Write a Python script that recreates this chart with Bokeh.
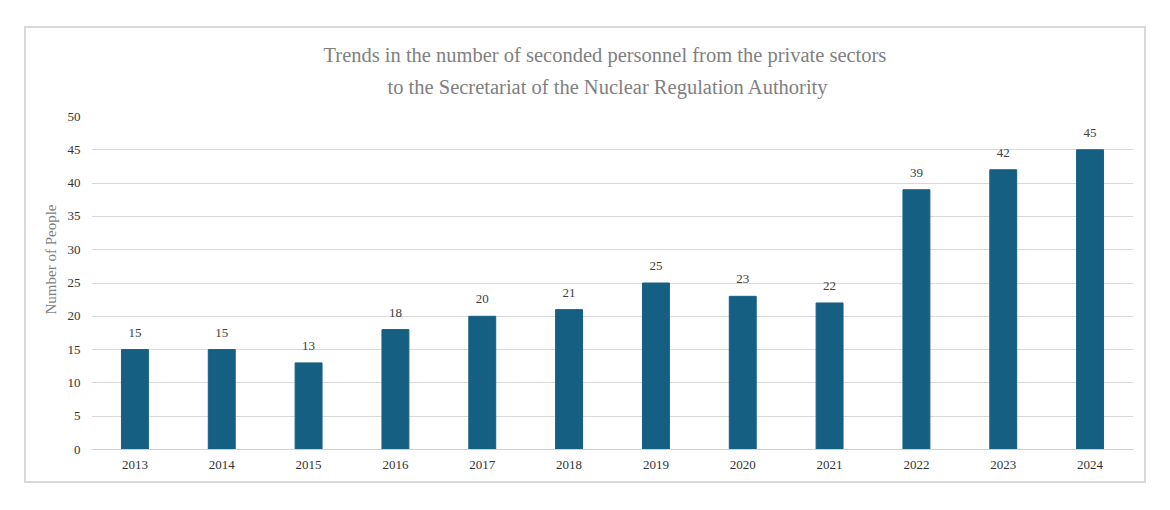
from bokeh.plotting import figure
from bokeh.models import ColumnDataSource, LabelSet, Title, SingleIntervalTicker
from bokeh.embed import file_html
from bokeh.resources import INLINE

years = ["2013", "2014", "2015", "2016", "2017", "2018", "2019", "2020", "2021", "2022", "2023", "2024"]
people = [15, 15, 13, 18, 20, 21, 25, 23, 22, 39, 42, 45]
title_lines = ["Trends in the number of seconded personnel from the private sectors",
               "to the Secretariat of the Nuclear Regulation Authority"]
y_label = "Number of People"

SERIF = "Liberation Serif"

src = ColumnDataSource(dict(x=years, y=people, t=[str(v) for v in people]))

p = figure(x_range=years, y_range=(0, 50), width=1122, height=457,
           output_backend="svg", toolbar_location=None,
           min_border_left=65, min_border_right=15, min_border_top=0, min_border_bottom=36)
p.margin = (26, 0, 0, 24)
p.styles = {"border": "2px solid #d9d9d9", "box-sizing": "border-box"}
p.outline_line_color = None

p.vbar(x="x", top="y", width=0.31, source=src, color="#155F82")
p.add_layout(LabelSet(x="x", y="y", text="t", source=src, y_offset=13,
                      text_align="center", text_baseline="bottom",
                      text_font=SERIF, text_font_size="13px", text_color="#404040"))

spacer_bottom = Title(text=" ", align="left", text_font=SERIF, text_font_size="1px", standoff=15.5)
t2 = Title(text=title_lines[1], align="left", text_font=SERIF, text_font_size="20.5px",
           text_color="#7f7f7f", text_font_style="normal", offset=296, standoff=0)
t1 = Title(text=title_lines[0], align="left", text_font=SERIF, text_font_size="20.5px",
           text_color="#7f7f7f", text_font_style="normal", offset=232, standoff=16)
spacer_top = Title(text=" ", align="left", text_font=SERIF, text_font_size="1px", standoff=2)
p.add_layout(spacer_bottom, "above")
p.add_layout(t2, "above")
p.add_layout(t1, "above")
p.add_layout(spacer_top, "above")

p.yaxis.ticker = SingleIntervalTicker(interval=5)
ty = Title(text=y_label, align="left", text_font=SERIF, text_font_size="15px",
           text_color="#7f7f7f", text_font_style="normal", offset=135, standoff=11)
p.add_layout(ty, "left")
for ax in (p.xaxis, p.yaxis):
    ax.axis_line_color = None
    ax.major_tick_line_color = None
    ax.minor_tick_line_color = None
    ax.major_label_text_font = SERIF
    ax.major_label_text_font_size = "13px"
    ax.major_label_text_color = "#333333"
p.yaxis.major_label_standoff = 5
p.xaxis.major_label_standoff = 5
p.xaxis.axis_line_color = "#d0d0d0"

p.xgrid.grid_line_color = None
p.ygrid.grid_line_color = "#d9d9d9"
p.ygrid.ticker = SingleIntervalTicker(interval=5)

open("out.html", "w").write(file_html(p, INLINE))
